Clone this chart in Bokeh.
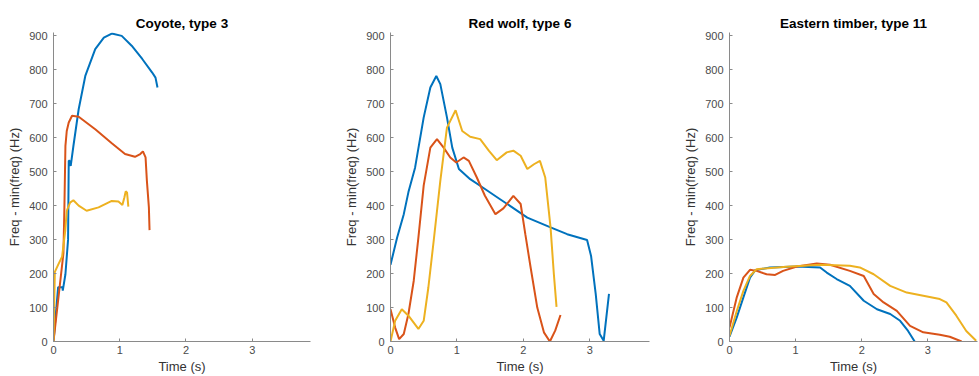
from bokeh.plotting import figure
from bokeh.layouts import row
from bokeh.models import FixedTicker, Range1d
from bokeh.embed import file_html
from bokeh.resources import INLINE

# ---------------- data ----------------
titles = ["Coyote, type 3", "Red wolf, type 6", "Eastern timber, type 11"]
x_label = "Time (s)"
y_label = "Freq - min(freq) (Hz)"
x_ticks = [0, 1, 2, 3]
y_ticks = [0, 100, 200, 300, 400, 500, 600, 700, 800, 900]
colors = ["#0072BD", "#D95319", "#EDB120"]

# Coyote, type 3
coy_blue_t = [0, 0.07, 0.135, 0.14, 0.18, 0.22, 0.23, 0.245, 0.26, 0.30, 0.38, 0.48, 0.63, 0.76, 0.88, 1.03, 1.18, 1.34, 1.49, 1.54, 1.57]
coy_blue_f = [0, 160, 160, 150, 198, 300, 532, 532, 517, 575, 684, 782, 861, 895, 907, 900, 871, 832, 792, 777, 748]
coy_red_t = [0, 0.15, 0.165, 0.18, 0.20, 0.23, 0.28, 0.38, 0.63, 0.88, 1.08, 1.23, 1.31, 1.35, 1.39, 1.41, 1.44, 1.45]
coy_red_f = [0, 260, 400, 576, 620, 645, 665, 662, 625, 584, 552, 544, 552, 560, 542, 473, 395, 328]
coy_yel_t = [0, 0.02, 0.075, 0.13, 0.177, 0.20, 0.25, 0.30, 0.38, 0.50, 0.68, 0.88, 0.98, 1.04, 1.07, 1.09, 1.11, 1.13]
coy_yel_f = [0, 205, 228, 250, 326, 385, 409, 416, 400, 385, 395, 414, 412, 402, 424, 442, 439, 397]

# Red wolf, type 6
rw_blue_t = [0, 0.1, 0.2, 0.27, 0.37, 0.50, 0.60, 0.69, 0.75, 0.85, 0.93, 1.03, 1.20, 1.40, 1.65, 2.06, 2.41, 2.66, 2.96, 3.02, 3.09, 3.15, 3.21, 3.29]
rw_blue_f = [226, 306, 375, 440, 512, 660, 748, 782, 758, 660, 571, 508, 478, 452, 419, 365, 336, 316, 299, 252, 140, 22, 2, 140]
rw_red_t = [0, 0.07, 0.13, 0.2, 0.27, 0.35, 0.42, 0.50, 0.60, 0.70, 0.80, 0.90, 0.99, 1.10, 1.18, 1.30, 1.42, 1.58, 1.70, 1.85, 1.96, 2.03, 2.11, 2.21, 2.31, 2.40, 2.48, 2.56]
rw_red_f = [95, 41, 7, 22, 81, 179, 306, 460, 571, 596, 571, 542, 527, 542, 532, 483, 430, 375, 392, 429, 405, 316, 218, 100, 27, 0, 32, 78]
rw_yel_t = [0, 0.07, 0.17, 0.27, 0.42, 0.50, 0.57, 0.65, 0.75, 0.85, 0.98, 1.08, 1.20, 1.35, 1.48, 1.60, 1.75, 1.85, 1.96, 2.06, 2.16, 2.25, 2.33, 2.41, 2.46, 2.50]
rw_yel_f = [0, 61, 95, 76, 37, 61, 159, 296, 473, 630, 681, 620, 603, 596, 562, 534, 557, 562, 547, 508, 522, 532, 483, 336, 198, 102]

# Eastern timber, type 11
et_blue_t = [0, 0.11, 0.21, 0.31, 0.39, 0.61, 1.02, 1.37, 1.47, 1.62, 1.82, 2.03, 2.23, 2.43, 2.58, 2.70, 2.80]
et_blue_f = [14, 71, 130, 188, 210, 218, 221, 218, 203, 184, 164, 120, 95, 81, 61, 31, 0]
et_red_t = [0, 0.11, 0.21, 0.31, 0.41, 0.56, 0.69, 0.81, 1.02, 1.32, 1.52, 1.82, 2.03, 2.18, 2.33, 2.53, 2.73, 2.93, 3.18, 3.33, 3.51]
et_red_f = [41, 130, 188, 211, 208, 198, 196, 208, 221, 230, 226, 208, 193, 140, 115, 90, 46, 27, 20, 14, 0]
et_yel_t = [0, 0.11, 0.21, 0.31, 0.41, 0.86, 1.37, 1.82, 1.97, 2.18, 2.43, 2.68, 2.93, 3.18, 3.28, 3.43, 3.58, 3.73]
et_yel_f = [17, 90, 149, 193, 213, 220, 226, 223, 218, 198, 164, 144, 135, 125, 115, 76, 31, 2]

x_ends = [3.88, 3.9, 3.75]
y_end = 910

panels = [
    [(coy_blue_t, coy_blue_f), (coy_red_t, coy_red_f), (coy_yel_t, coy_yel_f)],
    [(rw_blue_t, rw_blue_f), (rw_red_t, rw_red_f), (rw_yel_t, rw_yel_f)],
    [(et_blue_t, et_blue_f), (et_red_t, et_red_f), (et_yel_t, et_yel_f)],
]

# ---------------- layout ----------------
widths = [330, 330, 319]
borders_left = [53, 60, 69]
borders_right = [20, 11, 2]
H = 376
FONT = "Liberation Sans"

figs = []
for i in range(3):
    p = figure(width=widths[i], height=H, output_backend="svg", toolbar_location=None,
               x_range=Range1d(0, x_ends[i]), y_range=Range1d(0, y_end),
               min_border_left=borders_left[i], min_border_right=borders_right[i],
               min_border_top=32, min_border_bottom=35,
               title=titles[i])
    p.outline_line_color = None
    p.grid.visible = False
    p.background_fill_color = "white"
    p.border_fill_color = "white"
    p.title.align = "center"
    p.title.text_font = FONT
    p.title.text_font_size = "13.5px"
    p.title.text_font_style = "bold"
    p.title.text_color = "#000000"
    p.title.standoff = 4

    for ax in (p.xaxis[0], p.yaxis[0]):
        ax.axis_line_color = "#8a8a8a"
        ax.axis_line_width = 1
        ax.major_tick_line_color = "#8a8a8a"
        ax.major_tick_in = 3
        ax.major_tick_out = 0
        ax.minor_tick_line_color = None
        ax.major_label_text_font = FONT
        ax.major_label_text_font_size = "11px"
        ax.major_label_text_color = "#4a4a4a"
        ax.axis_label_text_font = FONT
        ax.axis_label_text_font_style = "normal"
        ax.axis_label_text_color = "#333333"
        ax.axis_label_text_font_size = "13px"
    p.xaxis[0].ticker = FixedTicker(ticks=x_ticks)
    p.yaxis[0].ticker = FixedTicker(ticks=y_ticks)
    p.xaxis[0].axis_label = x_label
    p.yaxis[0].axis_label = y_label
    p.xaxis[0].major_label_standoff = 4
    p.xaxis[0].axis_label_standoff = 2
    p.yaxis[0].major_label_standoff = 6
    p.yaxis[0].axis_label_standoff = 4

    for (t, f), c in zip(panels[i], colors):
        p.line(t, f, line_color=c, line_width=2)
    figs.append(p)

layout = row(*figs)
open("out.html", "w").write(file_html(layout, INLINE))
